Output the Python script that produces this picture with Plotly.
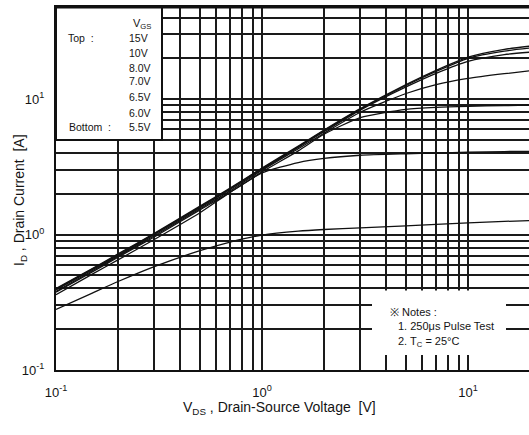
import plotly.graph_objects as go

# ---- data ----
vds = [0.1, 0.15, 0.2, 0.3, 0.5, 0.7, 1, 1.5, 2, 3, 5, 7, 10, 15, 20]
vgs_labels = ["15V", "10V", "8.0V", "7.0V", "6.5V", "6.0V", "5.5V"]
id_15v = [0.40, 0.56, 0.72, 1.02, 1.62, 2.20, 3.10, 4.50, 5.90, 8.50, 12.8, 16.3, 20.4, 23.3, 24.6]
id_10v = [0.395, 0.555, 0.71, 1.01, 1.60, 2.18, 3.07, 4.45, 5.85, 8.40, 12.6, 16.0, 20.0, 22.6, 23.8]
id_8v = [0.39, 0.55, 0.70, 1.00, 1.58, 2.15, 3.03, 4.40, 5.75, 8.30, 12.3, 15.5, 19.0, 21.3, 22.2]
id_7v = [0.38, 0.54, 0.69, 0.98, 1.55, 2.10, 2.98, 4.30, 5.60, 8.00, 11.0, 12.8, 14.2, 15.4, 16.2]
id_6v5 = [0.375, 0.53, 0.68, 0.96, 1.52, 2.05, 2.90, 4.15, 5.50, 7.30, 8.40, 8.70, 8.85, 8.95, 9.05]
id_6v = [0.36, 0.51, 0.65, 0.92, 1.45, 2.05, 2.85, 3.40, 3.65, 3.85, 3.95, 4.00, 4.05, 4.10, 4.12]
id_5v5 = [0.28, 0.37, 0.45, 0.58, 0.76, 0.88, 0.99, 1.06, 1.09, 1.12, 1.16, 1.19, 1.22, 1.25, 1.27]
series = [id_15v, id_10v, id_8v, id_7v, id_6v5, id_6v, id_5v5]

xtick_vals = [0.1, 1, 10]
xtick_text = ["10<sup>-1</sup>", "10<sup>0</sup>", "10<sup>1</sup>"]
ytick_vals = [0.1, 1, 10]
ytick_text = ["10<sup>-1</sup>", "10<sup>0</sup>", "10<sup>1</sup>"]

FONT = "Liberation Sans Narrow, Arial Narrow, Liberation Sans, Arial, sans-serif"
INK = "#141414"

W, H = 529, 435
L, R, T, B = 56, 0, 7, 65
PW, PH = W - L - R, H - T - B


def px(x):
    return (x - L) / PW


def py(y):
    return (H - B - y) / PH


fig = go.Figure()
for lab, ys in zip(vgs_labels, series):
    fig.add_trace(go.Scatter(x=vds, y=ys, mode="lines", name=lab,
                             line=dict(color="#111", width=1.3, shape="spline", smoothing=0.6)))

minor = dict(showgrid=True, gridcolor="#1a1a1a", gridwidth=2, ticks="", dtick="D1")
fig.update_xaxes(type="log", range=[-1, 1.296], tickvals=xtick_vals, ticktext=xtick_text,
                 ticks="", showline=True, linecolor="#111", linewidth=2, mirror=True,
                 minor=minor, showgrid=True, gridcolor="#1a1a1a", gridwidth=2,
                 tickfont=dict(family=FONT, size=13, color=INK), ticklabelstandoff=9,
                 zeroline=False, automargin=False)
fig.update_yaxes(type="log", range=[-1, 1.68], tickvals=ytick_vals, ticktext=ytick_text,
                 ticks="", showline=True, linecolor="#111", linewidth=2, mirror=True,
                 minor=minor, showgrid=True, gridcolor="#1a1a1a", gridwidth=2,
                 tickfont=dict(family=FONT, size=13, color=INK), ticklabelstandoff=7,
                 zeroline=False, automargin=False)

shapes = [
    # legend box
    dict(type="rect", xref="paper", yref="paper", x0=px(56), x1=px(162), y0=py(140), y1=py(7),
         fillcolor="white", line=dict(color="#111", width=2), layer="above"),
    # notes box (white patch)
    dict(type="rect", xref="paper", yref="paper", x0=px(372), x1=px(506), y0=py(355), y1=py(290.5),
         fillcolor="white", line=dict(width=0), layer="above"),
    # thicker top frame
    dict(type="line", xref="paper", yref="paper", x0=0, x1=1, y0=1, y1=1,
         line=dict(color="#111", width=3), layer="above"),
]

ann = []


def text(x, y, s, size=10, anchor="left", angle=0):
    ann.append(dict(x=px(x), y=py(y), xref="paper", yref="paper", text=s, showarrow=False,
                    xanchor=anchor, yanchor="middle", textangle=angle,
                    font=dict(family=FONT, size=size, color=INK)))


text(131, 24, "V<sub>GS</sub>", size=11)
text(66, 38, "Top  :", size=10.5)
text(67, 127, "Bottom  :", size=10.5)
for lab, yy in zip(vgs_labels, [38, 53, 68, 81, 97, 113, 127]):
    text(127, yy, lab, size=10.5)

text(388, 312, "※ Notes :", size=11)
text(396, 326, "1. 250μs Pulse Test", size=11)
text(396, 342, "2. T<sub>C</sub> = 25°C", size=11)

text(279, 408, "V<sub>DS</sub> , Drain-Source Voltage  [V]", size=14, anchor="center")
text(20, 200, "I<sub>D</sub> , Drain Current  [A]", size=14, anchor="center", angle=-90)

fig.update_layout(width=W, height=H, margin=dict(l=L, r=R, t=T, b=B, autoexpand=False),
                  paper_bgcolor="white", plot_bgcolor="white", showlegend=False,
                  shapes=shapes, annotations=ann)

fig.write_html("out.html", config={"displayModeBar": False},
               post_script="document.body.style.margin='0px';")
